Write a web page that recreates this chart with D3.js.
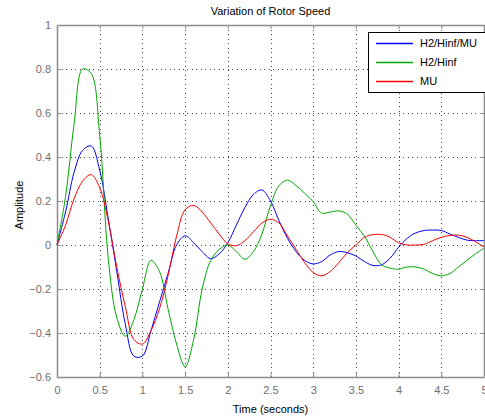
<!DOCTYPE html>
<html>
<head>
<meta charset="utf-8">
<script src="https://cdn.jsdelivr.net/npm/d3@7"></script>
<style>
  body { margin: 0; background: #fff; }
  svg { display: block; font-family: "Liberation Sans", Arial, sans-serif; }
</style>
</head>
<body>
<div id="chart"></div>
<script>
// Sample times (seconds), step 0.1
const time = d3.range(0, 51).map(i => +(i * 0.1).toFixed(1));

const h2HinfMu = [
  0, 0.15, 0.33, 0.43, 0.45, 0.34, 0.12, -0.12, -0.36, -0.505,
  -0.505, -0.39, -0.26, -0.13, 0.0, 0.042, 0.01, -0.03, -0.062, -0.04,
  0.01, 0.09, 0.17, 0.23, 0.25, 0.20, 0.11, 0.03, -0.03, -0.07,
  -0.086, -0.075, -0.045, -0.03, -0.035, -0.05, -0.075, -0.093, -0.09, -0.06,
  -0.01, 0.03, 0.055, 0.066, 0.068, 0.066, 0.05, 0.035, 0.022, 0.02,
  0.02
];

const h2Hinf = [
  0, 0.22, 0.55, 0.80, 0.78, 0.50, -0.06, -0.33, -0.415, -0.34,
  -0.20, -0.07, -0.12, -0.29, -0.45, -0.553, -0.43, -0.20, -0.07, -0.02,
  0.0, -0.03, -0.065, -0.03, 0.05, 0.18, 0.27, 0.295, 0.27, 0.235,
  0.197, 0.145, 0.15, 0.155, 0.14, 0.09, 0.04, -0.03, -0.09, -0.105,
  -0.11, -0.10, -0.10, -0.11, -0.13, -0.14, -0.13, -0.10, -0.07, -0.04,
  -0.015
];

const mu = [
  0, 0.09, 0.21, 0.29, 0.32, 0.26, 0.11, -0.10, -0.28, -0.43,
  -0.45, -0.39, -0.29, -0.14, 0.04, 0.16, 0.18, 0.15, 0.10, 0.05,
  0.005, -0.003, 0.02, 0.06, 0.10, 0.117, 0.10, 0.04, -0.02, -0.08,
  -0.125, -0.14, -0.12, -0.08, -0.035, 0.0, 0.035, 0.047, 0.048, 0.035,
  0.01, 0.0, 0.0, 0.003, 0.02, 0.035, 0.043, 0.045, 0.035, 0.015,
  -0.01
];

const seriesNames = ['H2/Hinf/MU', 'H2/Hinf', 'MU'];
const seriesColors = ['#0000ff', '#00a800', '#ff0000'];
const xTicks = [0, 0.5, 1, 1.5, 2, 2.5, 3, 3.5, 4, 4.5, 5];
const yTicks = [-0.6, -0.4, -0.2, 0, 0.2, 0.4, 0.6, 0.8, 1];

const W = 485, H = 419;
const plotLeft = 57, plotRight = 484, plotTop = 25, plotBottom = 377;

const svg = d3.select('#chart').append('svg')
  .attr('width', W).attr('height', H);

svg.append('rect').attr('width', W).attr('height', H).attr('fill', '#fff');

const x = d3.scaleLinear().domain([0, 5]).range([plotLeft, plotRight]);
const y = d3.scaleLinear().domain([-0.6, 1]).range([plotBottom, plotTop]);

// Dotted grid
const grid = svg.append('g')
  .attr('stroke', '#444').attr('stroke-width', 1)
  .attr('stroke-dasharray', '1,3.5').attr('shape-rendering', 'crispEdges');
grid.selectAll('.gx').data(xTicks.slice(1, -1)).join('line')
  .attr('x1', d => Math.round(x(d)) + 0.5).attr('x2', d => Math.round(x(d)) + 0.5)
  .attr('y1', plotTop).attr('y2', plotBottom);
grid.selectAll('.gy').data(yTicks.slice(1, -1)).join('line')
  .attr('y1', d => Math.round(y(d)) + 0.5).attr('y2', d => Math.round(y(d)) + 0.5)
  .attr('x1', plotLeft).attr('x2', plotRight);

// Axes (ticks inward, MATLAB box style)
const axisColor = '#8c8c8c';
const xAxis = svg.append('g').attr('transform', `translate(0,${plotBottom})`)
  .call(d3.axisBottom(x).tickValues(xTicks).tickSizeInner(-4).tickSizeOuter(0)
    .tickPadding(9).tickFormat(d3.format('')));
const yAxis = svg.append('g').attr('transform', `translate(${plotLeft},0)`)
  .call(d3.axisLeft(y).tickValues(yTicks).tickSizeInner(-4).tickSizeOuter(0)
    .tickPadding(6).tickFormat(d3.format('')));
const xTop = svg.append('g').attr('transform', `translate(0,${plotTop})`)
  .call(d3.axisTop(x).tickValues(xTicks).tickSizeInner(-4).tickSizeOuter(0).tickFormat(''));
const yRight = svg.append('g').attr('transform', `translate(${plotRight},0)`)
  .call(d3.axisRight(y).tickValues(yTicks).tickSizeInner(-4).tickSizeOuter(0).tickFormat(''));

[xAxis, yAxis, xTop, yRight].forEach(a => {
  a.select('.domain').attr('stroke', axisColor).attr('stroke-width', 1.5);
  a.selectAll('.tick line').attr('stroke', axisColor);
  a.selectAll('text').attr('fill', '#6e6e6e').attr('font-size', 11)
    .attr('font-family', '"Liberation Sans", Arial, sans-serif');
});

// Lines
const line = d3.line()
  .x((d, i) => x(time[i]))
  .y(d => y(d))
  .curve(d3.curveCatmullRom.alpha(0.5));

const plot = svg.append('g');
[h2HinfMu, h2Hinf, mu].forEach((vals, k) => {
  plot.append('path')
    .datum(vals)
    .attr('fill', 'none')
    .attr('stroke', seriesColors[k])
    .attr('stroke-width', 1)
    .attr('d', line);
});

// Titles
svg.append('text')
  .attr('x', (plotLeft + plotRight) / 2).attr('y', 15)
  .attr('text-anchor', 'middle').attr('font-size', 11).attr('fill', '#000')
  .text('Variation of Rotor Speed');

svg.append('text')
  .attr('x', (plotLeft + plotRight) / 2).attr('y', 413)
  .attr('text-anchor', 'middle').attr('font-size', 11).attr('fill', '#000')
  .text('Time (seconds)');

svg.append('text')
  .attr('transform', 'translate(23,205) rotate(-90)')
  .attr('text-anchor', 'middle').attr('font-size', 11).attr('fill', '#000')
  .text('Amplitude');

// Legend
const legend = svg.append('g');
legend.append('rect')
  .attr('x', 368.5).attr('y', 32.5).attr('width', 130).attr('height', 60)
  .attr('fill', '#fff').attr('stroke', '#000').attr('stroke-width', 1);
seriesNames.forEach((name, i) => {
  const ly = 43 + i * 19;
  legend.append('line')
    .attr('x1', 376).attr('x2', 413).attr('y1', ly + 0.5).attr('y2', ly + 0.5)
    .attr('stroke', seriesColors[i]).attr('stroke-width', 1.3);
  legend.append('text')
    .attr('x', 420).attr('y', ly + 4)
    .attr('font-size', 11).attr('fill', '#000')
    .text(name);
});
</script>
</body>
</html>
